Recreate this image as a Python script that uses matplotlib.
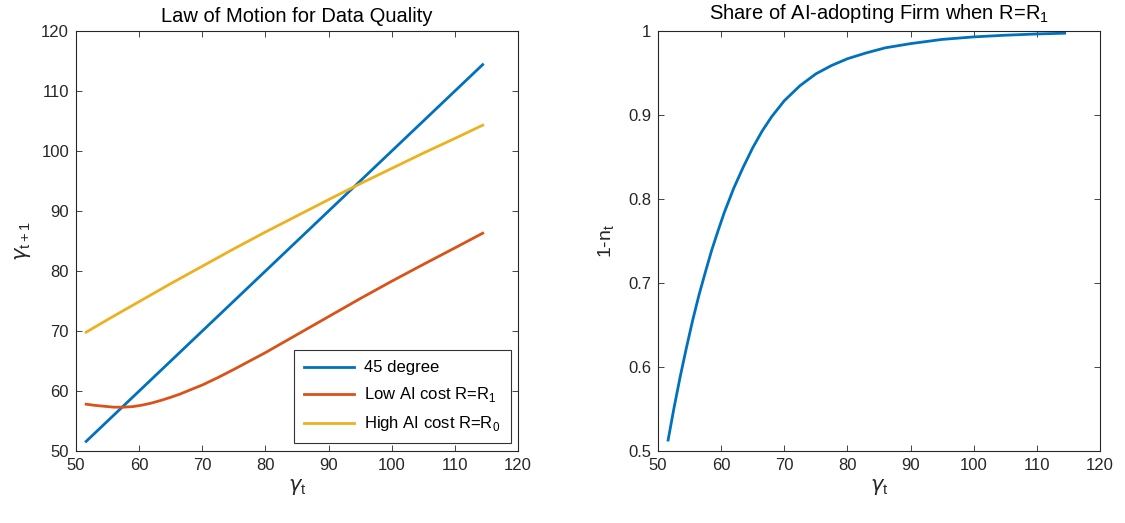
"""
law of motion for data quality / share of AI-adopting firms
"""

import matplotlib
matplotlib.use("Agg")
import matplotlib.pyplot as plt

# ---- data ----
gamma_45 = [51.6, 114.4]
line_45 = [51.6, 114.4]

gamma_low = [51.6, 53, 54.5, 56, 57.5, 59, 60.5, 62, 63.5, 65, 66.5, 68, 70, 72.5, 75, 77.5,
             80, 85, 90, 95, 100, 105, 110, 114.4]
low_cost = [57.8, 57.6, 57.45, 57.3, 57.3, 57.4, 57.65, 58.0, 58.45, 58.95, 59.5, 60.15, 61.0,
            62.25, 63.6, 65.0, 66.4, 69.4, 72.4, 75.4, 78.3, 81.1, 83.85, 86.3]

gamma_high = [51.6, 55, 60, 65, 70, 75, 80, 85, 90, 95, 100, 105, 110, 114.4]
high_cost = [69.8, 71.9, 74.9, 77.9, 80.8, 83.7, 86.5, 89.2, 91.9, 94.55, 97.1, 99.65, 102.1, 104.3]

gamma_share = [51.6, 52.5, 53.5, 54.5, 55.5, 56.5, 57.5, 58.5, 59.5, 60.5, 62, 63.5, 65, 66.5,
               68, 70, 72.5, 75, 77.5, 80, 83, 86, 90, 95, 100, 105, 110, 114.4]
share = [0.513, 0.550, 0.588, 0.623, 0.656, 0.686, 0.713, 0.739, 0.762, 0.784, 0.813, 0.838,
         0.861, 0.881, 0.898, 0.917, 0.935, 0.949, 0.959, 0.967, 0.974, 0.980, 0.985, 0.990,
         0.993, 0.995, 0.9965, 0.9974]

xticks = [50, 60, 70, 80, 90, 100, 110, 120]
yticks_left = [50, 60, 70, 80, 90, 100, 110, 120]
yticks_right = [0.5, 0.6, 0.7, 0.8, 0.9, 1.0]
yticklabels_right = ['0.5', '0.6', '0.7', '0.8', '0.9', '1']

BLUE = '#0072BD'
RED = '#D95319'
YELLOW = '#EDB120'
AXC = '#262626'

plt.rcParams['font.family'] = ['Liberation Sans', 'DejaVu Sans']
plt.rcParams['mathtext.fontset'] = 'custom'
plt.rcParams['mathtext.rm'] = 'Liberation Sans'
plt.rcParams['mathtext.it'] = 'DejaVu Sans:italic'


def style_axes(ax):
    for s in ax.spines.values():
        s.set_color(AXC)
        s.set_linewidth(0.8)
    ax.tick_params(direction='in', top=True, right=True, length=4, width=0.6,
                   colors=AXC, labelsize=12, pad=5)


fig = plt.figure(figsize=(11.25, 5.23), dpi=100)
ax1 = fig.add_axes([0.0676, 0.1377, 0.3929, 0.803])
ax2 = fig.add_axes([0.5849, 0.1377, 0.3929, 0.803])

# left panel
ax1.plot(gamma_45, line_45, color=BLUE, lw=2, label='45 degree')
ax1.plot(gamma_low, low_cost, color=RED, lw=2, label='Low AI cost R=R$_1$')
ax1.plot(gamma_high, high_cost, color=YELLOW, lw=2, label='High AI cost R=R$_0$')
ax1.set_xlim(50, 120)
ax1.set_ylim(50, 120)
ax1.set_xticks(xticks)
ax1.set_yticks(yticks_left)
style_axes(ax1)
ax1.set_title('Law of Motion for Data Quality', fontsize=14.5, color='black', pad=6.5)
ax1.set_xlabel(r'$\gamma_\mathrm{t}$', fontsize=15, color=AXC, labelpad=3)
ax1.set_ylabel(r'$\gamma_\mathrm{t+1}$', fontsize=15, color=AXC, labelpad=6)
leg = ax1.legend(loc='lower right', fontsize=12, frameon=True, fancybox=False,
                 handlelength=3.0, handletextpad=0.6, borderaxespad=0.45,
                 labelspacing=0.6, borderpad=0.6)
leg.get_frame().set_edgecolor('black')
leg.get_frame().set_linewidth(0.8)

# right panel
ax2.plot(gamma_share, share, color=BLUE, lw=2)
ax2.set_xlim(50, 120)
ax2.set_ylim(0.5, 1.0)
ax2.set_xticks(xticks)
ax2.set_yticks(yticks_right)
ax2.set_yticklabels(yticklabels_right)
style_axes(ax2)
ax2.set_title('Share of AI-adopting Firm when R=R$_1$', fontsize=14.5, color='black', pad=9)
ax2.set_xlabel(r'$\gamma_\mathrm{t}$', fontsize=15, color=AXC, labelpad=3)
ax2.set_ylabel('1-n$_\\mathrm{t}$', fontsize=14, color=AXC, labelpad=8)

fig.savefig('out.png', dpi=100)
